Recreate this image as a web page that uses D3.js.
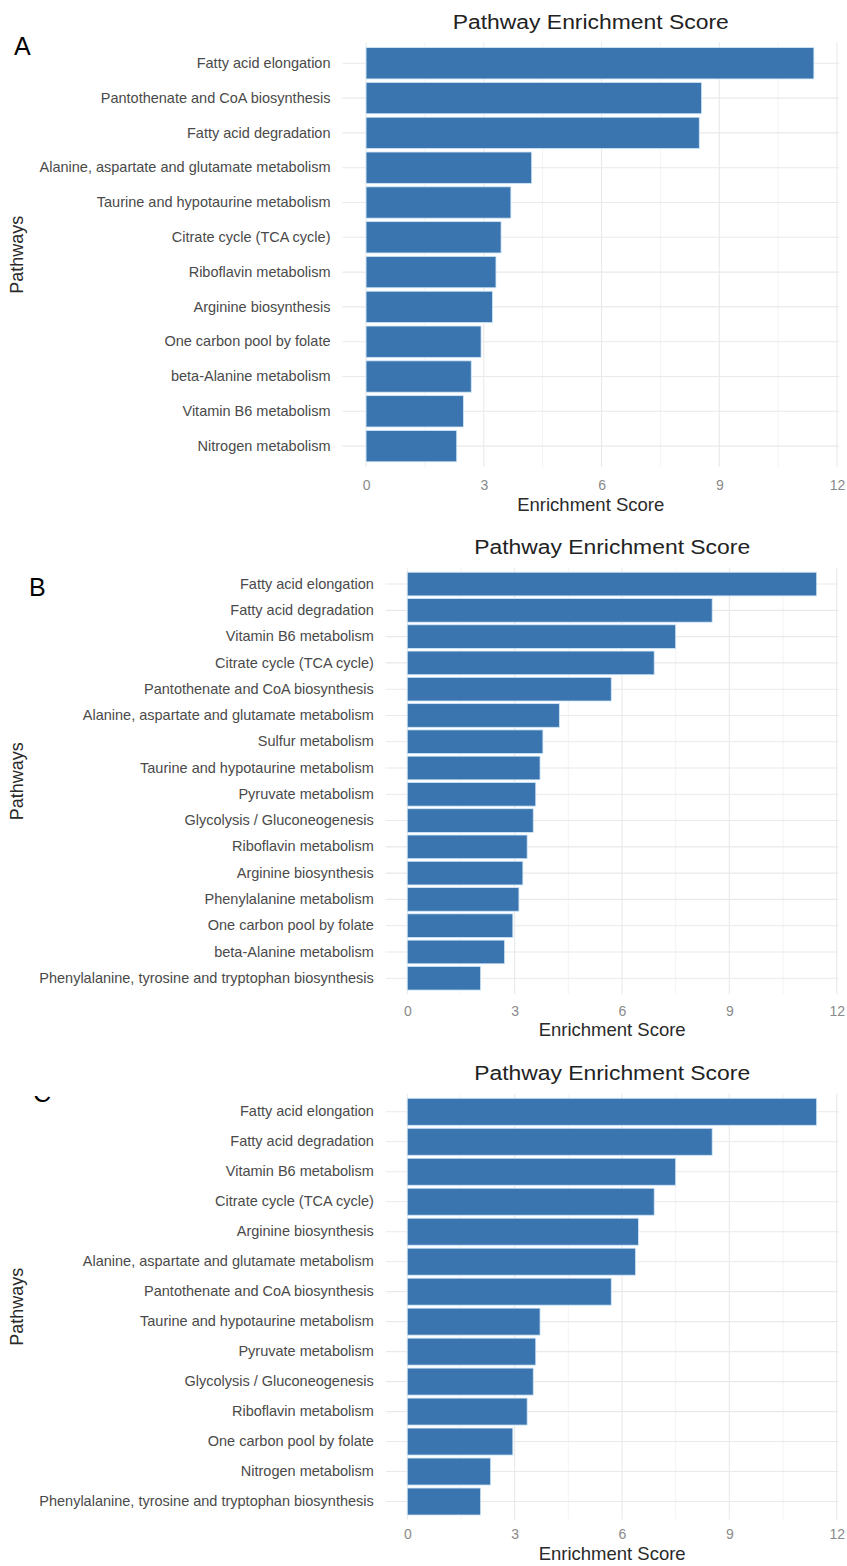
<!DOCTYPE html>
<html>
<head>
<meta charset="utf-8">
<script src="https://cdn.jsdelivr.net/npm/d3@7"></script>
<style>
  html, body { margin: 0; padding: 0; background: #ffffff; }
  svg { display: block; font-family: "Liberation Sans", Arial, sans-serif; }
</style>
</head>
<body>
<svg id="fig" width="847" height="1566"></svg>
<script>
// Panel A
const pathwaysA = [
  "Fatty acid elongation",
  "Pantothenate and CoA biosynthesis",
  "Fatty acid degradation",
  "Alanine, aspartate and glutamate metabolism",
  "Taurine and hypotaurine metabolism",
  "Citrate cycle (TCA cycle)",
  "Riboflavin metabolism",
  "Arginine biosynthesis",
  "One carbon pool by folate",
  "beta-Alanine metabolism",
  "Vitamin B6 metabolism",
  "Nitrogen metabolism"
];
const scoresA = [11.41, 8.55, 8.49, 4.22, 3.69, 3.44, 3.31, 3.22, 2.93, 2.68, 2.48, 2.31];

// Panel B
const pathwaysB = [
  "Fatty acid elongation",
  "Fatty acid degradation",
  "Vitamin B6 metabolism",
  "Citrate cycle (TCA cycle)",
  "Pantothenate and CoA biosynthesis",
  "Alanine, aspartate and glutamate metabolism",
  "Sulfur metabolism",
  "Taurine and hypotaurine metabolism",
  "Pyruvate metabolism",
  "Glycolysis / Gluconeogenesis",
  "Riboflavin metabolism",
  "Arginine biosynthesis",
  "Phenylalanine metabolism",
  "One carbon pool by folate",
  "beta-Alanine metabolism",
  "Phenylalanine, tyrosine and tryptophan biosynthesis"
];
const scoresB = [11.44, 8.52, 7.50, 6.90, 5.70, 4.25, 3.79, 3.71, 3.59, 3.52, 3.35, 3.23, 3.12, 2.95, 2.72, 2.05];

// Panel C
const pathwaysC = [
  "Fatty acid elongation",
  "Fatty acid degradation",
  "Vitamin B6 metabolism",
  "Citrate cycle (TCA cycle)",
  "Arginine biosynthesis",
  "Alanine, aspartate and glutamate metabolism",
  "Pantothenate and CoA biosynthesis",
  "Taurine and hypotaurine metabolism",
  "Pyruvate metabolism",
  "Glycolysis / Gluconeogenesis",
  "Riboflavin metabolism",
  "One carbon pool by folate",
  "Nitrogen metabolism",
  "Phenylalanine, tyrosine and tryptophan biosynthesis"
];
const scoresC = [11.44, 8.52, 7.50, 6.90, 6.46, 6.38, 5.70, 3.71, 3.59, 3.52, 3.35, 2.95, 2.33, 2.05];

const xTicks = [0, 3, 6, 9, 12];
const xMinor = [1.5, 4.5, 7.5, 10.5];
const chartTitle = "Pathway Enrichment Score";
const xTitle = "Enrichment Score";
const yTitle = "Pathways";

const BAR = "#3b75b0";
const svg = d3.select("#fig");

function drawPanel(o) {
  const g = svg.append("g");
  const x = d3.scaleLinear().domain([-0.6, 12.05]).range([o.left, o.right]);
  const y = d3.scaleBand().domain(o.cats).range([o.top, o.bottom])
    .paddingInner(0.1).paddingOuter(0.15);

  // minor vertical grid
  g.append("g").selectAll("line").data(xMinor).join("line")
    .attr("x1", d => x(d)).attr("x2", d => x(d))
    .attr("y1", o.top).attr("y2", o.bottom)
    .attr("stroke", "#f3f3f3").attr("stroke-width", 1);
  // major vertical grid
  g.append("g").selectAll("line").data(xTicks).join("line")
    .attr("x1", d => x(d)).attr("x2", d => x(d))
    .attr("y1", o.top).attr("y2", o.bottom)
    .attr("stroke", "#e9e9e9").attr("stroke-width", 1.1);
  // horizontal grid at each category
  g.append("g").selectAll("line").data(o.cats).join("line")
    .attr("x1", o.left).attr("x2", o.right)
    .attr("y1", d => y(d) + y.bandwidth() / 2).attr("y2", d => y(d) + y.bandwidth() / 2)
    .attr("stroke", "#e9e9e9").attr("stroke-width", 1.1);

  // bars
  g.append("g").selectAll("rect").data(o.cats).join("rect")
    .attr("x", x(0))
    .attr("y", d => y(d))
    .attr("width", (d, i) => x(o.vals[i]) - x(0))
    .attr("height", y.bandwidth())
    .attr("fill", BAR)
    .attr("stroke", "#cfe6f7").attr("stroke-width", 0.8);

  // y axis labels
  const yAxis = d3.axisLeft(y).tickSize(0).tickPadding(0);
  const ya = g.append("g").attr("transform", `translate(${o.left - 12},0)`).call(yAxis);
  ya.select(".domain").remove();
  ya.selectAll("text").attr("font-size", o.labelSize).attr("fill", "#4a4a4a")
    .attr("font-family", "Liberation Sans, Arial, sans-serif");

  // x axis tick labels
  const xAxis = d3.axisBottom(x).tickValues(xTicks).tickSize(0).tickPadding(0).tickFormat(d3.format("d"));
  const xa = g.append("g").attr("transform", `translate(0,${o.tickY})`).call(xAxis);
  xa.select(".domain").remove();
  xa.selectAll("text").attr("font-size", 14).attr("fill", "#8a8a8a").attr("dy", "0.35em")
    .attr("font-family", "Liberation Sans, Arial, sans-serif");

  // axis titles
  g.append("text").attr("x", (o.left + o.right) / 2).attr("y", o.xTitleY)
    .attr("text-anchor", "middle").attr("dy", "0.35em")
    .attr("font-size", 18.5).attr("fill", "#2a2a2a").text(xTitle);

  g.append("text")
    .attr("transform", `translate(${o.yTitleX},${(o.top + o.bottom) / 2}) rotate(-90)`)
    .attr("text-anchor", "middle").attr("dy", "0.35em")
    .attr("font-size", 18).attr("fill", "#2a2a2a").text(yTitle);

  // chart title
  g.append("text").attr("x", (o.left + o.right) / 2).attr("y", o.titleY)
    .attr("text-anchor", "middle")
    .attr("font-size", 20).attr("fill", "#222")
    .attr("textLength", 276).attr("lengthAdjust", "spacingAndGlyphs")
    .text(chartTitle);
}

drawPanel({ cats: pathwaysA, vals: scoresA, left: 342.5, right: 839, top: 42.4, bottom: 467,
  tickY: 485, xTitleY: 505, yTitleX: 17, titleY: 29, labelSize: 14.5 });
drawPanel({ cats: pathwaysB, vals: scoresB, left: 385.8, right: 838.5, top: 568.3, bottom: 994,
  tickY: 1011, xTitleY: 1030, yTitleX: 17, titleY: 554, labelSize: 14.5 });
drawPanel({ cats: pathwaysC, vals: scoresC, left: 385.8, right: 838.5, top: 1093.8, bottom: 1519.5,
  tickY: 1534, xTitleY: 1554, yTitleX: 17, titleY: 1080, labelSize: 14.5 });

// panel letters
svg.append("text").attr("x", 14).attr("y", 55).attr("font-size", 25).attr("fill", "#000").text("A");
svg.append("text").attr("x", 29).attr("y", 596).attr("font-size", 25).attr("fill", "#000").text("B");
// the third letter sits behind the panel title band; only its lower edge shows
svg.append("clipPath").attr("id", "cclip").append("rect")
  .attr("x", 0).attr("y", 1096).attr("width", 80).attr("height", 20);
svg.append("text").attr("x", 33).attr("y", 1102).attr("font-size", 25).attr("fill", "#000")
  .attr("clip-path", "url(#cclip)").text("C");
</script>
</body>
</html>
